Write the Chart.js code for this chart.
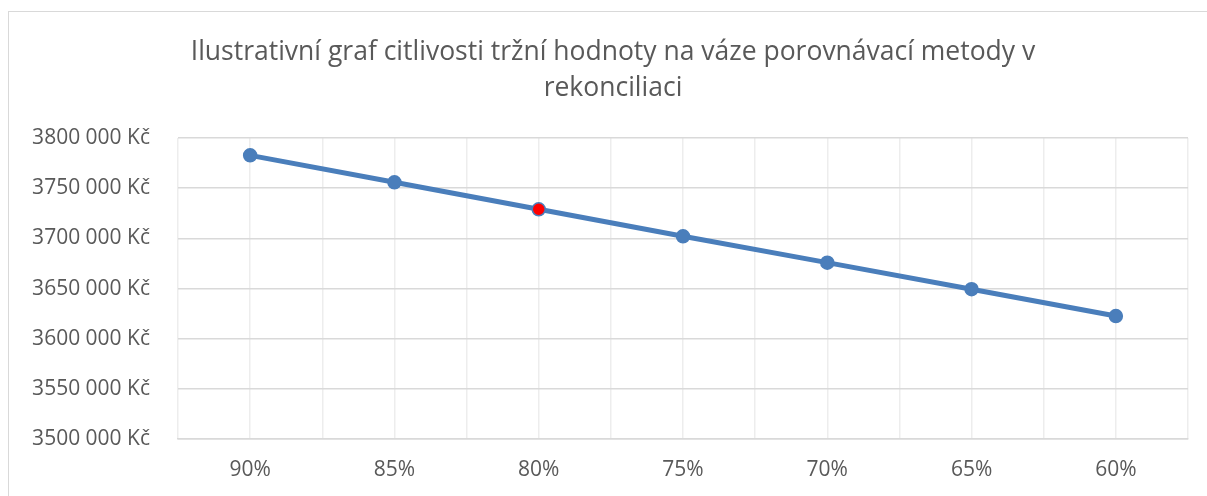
<!DOCTYPE html>
<html>
<head>
<meta charset="utf-8">
<script src="https://cdn.jsdelivr.net/npm/chart.js@4"></script>
<style>
    html, body { margin: 0; padding: 0; background: #fff; overflow: hidden; }
    #wrap {
        position: absolute; left: 8px; top: 11px;
        width: 1210px; height: 500px;
        border: 1px solid #d9d9d9; box-sizing: border-box;
    }
</style>
</head>
<body>
<div id="wrap"><canvas id="sensChart"></canvas></div>
<script>
const titleLines = ['Ilustrativní graf citlivosti tržní hodnoty na váze porovnávací metody v', 'rekonciliaci'];
const categories = ['90%', '85%', '80%', '75%', '70%', '65%', '60%'];
const marketValues = [3782800, 3755900, 3729000, 3702100, 3675800, 3649300, 3622600];
const highlightIndex = 2; // the 80 % point is red in the original
const yTicks = { min: 3500000, max: 3800000, step: 50000 };

const textColor = '#595959';
const lineColor = '#4a7ebb';

function formatKc(v) {
    return String(v).replace(/(\d{3})$/, ' $1') + ' Kč';
}

const points = marketValues.map((v, i) => ({ x: i, y: v }));

const config = {
    type: 'line',
    data: {
        datasets: [{
            data: points,
            borderColor: lineColor,
            borderWidth: 5,
            pointRadius: 6.5,
            pointHoverRadius: 6.5,
            pointBackgroundColor: marketValues.map((v, i) => i === highlightIndex ? '#ff0000' : lineColor),
            pointBorderColor: lineColor,
            pointBorderWidth: 1.5,
            fill: false,
            tension: 0,
        }],
    },
    options: {
        responsive: true,
        maintainAspectRatio: false,
        animation: false,
        layout: { padding: 0 },
        plugins: {
            legend: { display: false },
            tooltip: { enabled: false },
            title: {
                display: true,
                text: titleLines,
                color: textColor,
                font: { family: '"Open Sans", sans-serif', size: 26.5, weight: 'normal', lineHeight: 1.36 },
                padding: { top: 22, bottom: 32 },
            },
        },
        scales: {
            x: {
                type: 'linear',
                min: -0.5,
                max: categories.length - 0.5,
                grid: { color: '#ededed', lineWidth: 1.5, drawTicks: false },
                border: { color: '#d9d9d9', width: 1.5 },
                ticks: {
                    stepSize: 0.5,
                    autoSkip: false,
                    maxRotation: 0,
                    padding: 18,
                    color: textColor,
                    font: { family: '"Open Sans", sans-serif', size: 21 },
                    callback: function (v) {
                        return Number.isInteger(v) ? categories[v] : '';
                    },
                },
                afterFit: function (scale) { scale.height = 71; },
            },
            y: {
                min: yTicks.min,
                max: yTicks.max,
                grid: { color: '#d9d9d9', lineWidth: 1.5, drawTicks: false },
                border: { display: false },
                ticks: {
                    stepSize: yTicks.step,
                    padding: 28,
                    color: textColor,
                    font: { family: '"Open Sans", sans-serif', size: 21 },
                    callback: function (v) { return formatKc(v); },
                },
                afterFit: function (scale) { scale.width = 169; },
            },
            // empty axis that only keeps the right margin free
            yRight: {
                position: 'right',
                min: yTicks.min,
                max: yTicks.max,
                grid: { display: false, drawTicks: false },
                border: { display: false },
                ticks: { display: false },
                afterFit: function (scale) { scale.width = 29; },
            },
        },
    },
};

new Chart(document.getElementById('sensChart'), config);
</script>
</body>
</html>
